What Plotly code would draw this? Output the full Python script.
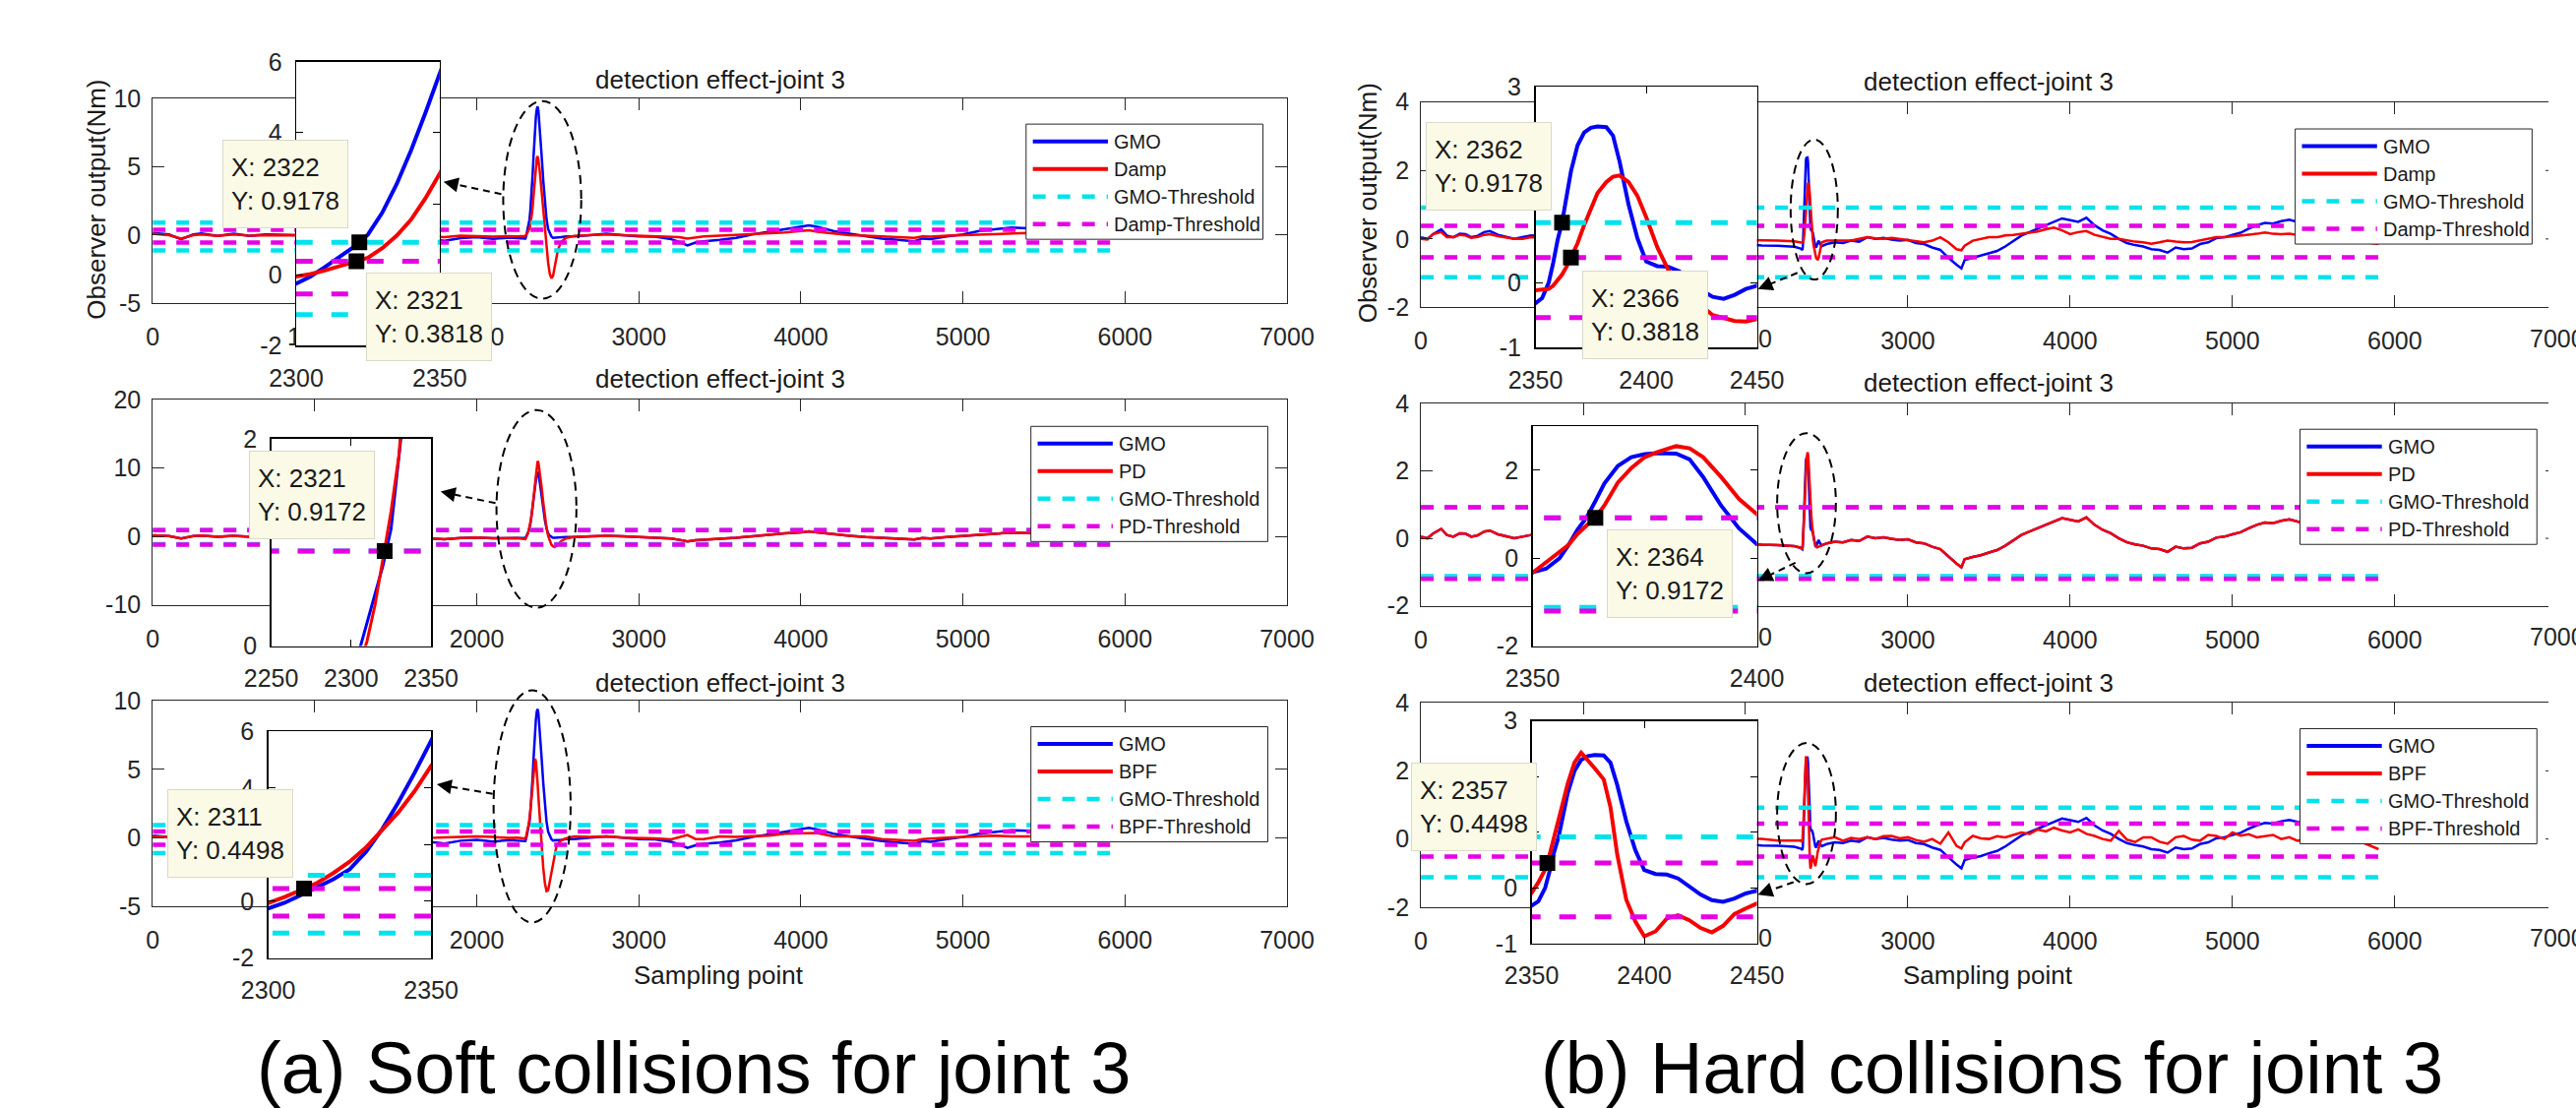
import plotly.graph_objects as go

W, H = 2618, 1126
FONT = "Liberation Sans, Arial, Helvetica, sans-serif"
INK = "#262626"
TXT = "#1a1a1a"
BLUE, RED, CYAN, MAGENTA = "#0000F5", "#F50000", "#00E3EC", "#E600E6"

# ======================= DATA =======================
# ---- (a) soft collisions ----
soft_x_pre = [0, 50, 100, 175, 250, 300, 400, 500, 600, 700, 900, 1200, 1500, 1750, 1800, 1900, 2000, 2100, 2200, 2250]
soft_gmo_pre = [0.15, 0.10, 0.05, -0.30, 0.05, 0.12, -0.05, 0.10, -0.05, 0.05, 0.00, 0.05, -0.10, -0.35, -0.42, -0.22, -0.15, -0.28, -0.18, -0.22]
soft_damp_pre = [0.10, 0.05, 0.00, -0.25, 0.00, 0.05, -0.05, 0.05, -0.05, 0.00, 0.00, 0.00, -0.05, -0.12, -0.15, -0.05, -0.10, -0.12, -0.08, -0.10]
soft_bpf_pre = [0.12, 0.05, 0.02, -0.20, 0.05, 0.08, -0.02, 0.05, -0.03, 0.02, 0.00, 0.02, -0.02, 0.00, 0.02, 0.05, 0.10, 0.05, -0.02, 0.00]

soft_x_spk = [2300, 2305, 2310, 2315, 2320, 2325, 2330, 2335, 2340, 2345, 2350, 2355, 2360, 2365, 2370, 2375, 2380,
              2390, 2400, 2410, 2420, 2430, 2440, 2450, 2460, 2470, 2480, 2490, 2500, 2520, 2550]
soft_gmo_spk = [-0.25, -0.05, 0.22, 0.50, 0.78, 1.13, 1.75, 2.55, 3.50, 4.55, 5.75, 6.90, 7.90, 8.70, 9.20, 9.40, 9.10,
                7.70, 5.80, 4.00, 2.40, 1.20, 0.45, 0.10, -0.10, -0.20, -0.20, -0.18, -0.20, -0.15, -0.10]
soft_damp_spk = [-0.05, 0.02, 0.12, 0.24, 0.36, 0.48, 0.75, 1.10, 1.55, 2.15, 2.85, 3.60, 4.40, 5.10, 5.60, 5.76, 5.50,
                 4.50, 3.10, 1.70, 0.40, -0.90, -2.00, -2.80, -3.15, -3.00, -2.40, -1.70, -1.10, -0.50, -0.20]
soft_pd_spk = [-0.40, -0.20, 0.05, 0.40, 0.83, 1.30, 1.85, 2.60, 3.50, 4.60, 5.80, 7.00, 8.20, 9.40, 10.40, 11.00, 10.80,
               9.30, 7.20, 5.00, 3.00, 1.30, 0.10, -0.70, -1.20, -1.45, -1.55, -1.40, -1.15, -0.70, -0.30]
soft_bpf_spk = [-0.06, 0.15, 0.40, 0.65, 1.00, 1.40, 1.90, 2.50, 3.15, 3.90, 4.78, 5.45, 5.76, 5.55, 4.90, 4.00, 3.00,
                1.00, -0.80, -2.20, -3.30, -3.90, -3.85, -3.20, -2.40, -1.70, -1.10, -0.70, -0.45, -0.20, -0.05]

soft_x_post = [2600, 2700, 2800, 2900, 3000, 3100, 3200, 3250, 3300, 3350, 3400, 3500, 3600, 3700, 3800, 3900, 4000,
               4050, 4100, 4200, 4300, 4400, 4500, 4600, 4700, 4750, 4800, 4900, 5000, 5100, 5200, 5300, 5400, 5500,
               5600, 5700, 5800, 5900]
soft_gmo_post = [-0.10, 0.00, 0.10, 0.00, -0.10, -0.12, -0.30, -0.50, -0.75, -0.55, -0.45, -0.35, -0.20, 0.05, 0.25, 0.45, 0.60,
                 0.72, 0.60, 0.30, 0.10, -0.10, -0.25, -0.35, -0.45, -0.25, -0.30, -0.10, 0.05, 0.30, 0.45, 0.55, 0.50, 0.40,
                 0.30, 0.20, 0.10, 0.05]
soft_damp_post = [-0.05, 0.00, 0.05, 0.00, -0.05, -0.05, -0.10, -0.15, -0.25, -0.15, -0.10, -0.05, 0.00, 0.05, 0.15, 0.20, 0.30,
                  0.35, 0.25, 0.10, 0.00, -0.05, -0.10, -0.15, -0.20, -0.10, -0.12, -0.05, 0.00, 0.05, 0.10, 0.15, 0.15, 0.10,
                  0.10, 0.05, 0.05, 0.00]
soft_bpf_post = [0.10, 0.05, 0.10, 0.00, 0.00, -0.05, -0.12, 0.05, 0.20, -0.10, -0.10, 0.10, 0.05, 0.12, 0.15, 0.30, 0.30,
                 0.35, 0.35, 0.10, 0.10, 0.10, -0.10, -0.15, -0.22, -0.10, -0.05, 0.00, 0.05, 0.10, 0.15, 0.10, 0.12, 0.10,
                 0.05, 0.05, 0.00, 0.00]

# ---- (b) hard collisions ----
hard_x_pre = [0, 40, 75, 125, 160, 200, 240, 275, 310, 350, 390, 425, 475, 525, 575, 625, 680, 1000, 1500, 2000, 2100, 2200, 2300]
hard_gmo_pre = [0.05, 0.00, 0.14, 0.28, 0.10, 0.05, 0.15, 0.14, 0.05, 0.09, 0.20, 0.23, 0.12, 0.05, 0.00, 0.05, 0.10, 0.00, -0.10, -0.15, -0.19, -0.20, -0.23]
hard_damp_pre = [0.00, -0.02, 0.14, 0.20, 0.05, 0.05, 0.12, 0.10, 0.03, 0.06, 0.12, 0.14, 0.08, 0.05, 0.00, 0.00, 0.05, 0.00, -0.03, -0.03, -0.03, -0.05, -0.07]
hard_bpf_pre = [0.00, 0.05, 0.10, 0.15, 0.05, -0.05, 0.05, 0.10, 0.02, 0.05, 0.08, 0.05, 0.02, 0.00, 0.03, 0.05, 0.00, 0.00, 0.02, 0.00, 0.00, -0.05, -0.05]

hard_x_spk = [2340, 2350, 2353, 2356, 2358, 2360, 2362, 2364, 2366, 2369,
              2372, 2375, 2378, 2382, 2385, 2388, 2392, 2396, 2400,
              2405, 2410, 2415, 2420, 2425, 2430, 2435, 2440, 2445, 2450, 2460, 2470]
hard_gmo_spk = [-0.28, -0.32, -0.24, 0.00, 0.30, 0.65, 0.92, 1.30, 1.70, 2.10,
                2.30, 2.37, 2.39, 2.38, 2.25, 1.85, 1.20, 0.68, 0.32,
                0.25, 0.24, 0.17, 0.03, -0.12, -0.22, -0.25, -0.19, -0.10, -0.05, -0.15, -0.21]
hard_damp_spk = [-0.10, -0.12, -0.11, -0.10, -0.05, 0.03, 0.12, 0.24, 0.38, 0.60,
                 0.88, 1.13, 1.37, 1.54, 1.62, 1.64, 1.54, 1.33, 1.00,
                 0.54, 0.19, -0.03, -0.20, -0.36, -0.50, -0.55, -0.59, -0.60, -0.56, -0.30, -0.10]
hard_pd_spk = [-0.28, -0.33, -0.10, 0.12, 0.30, 0.55, 0.75, 0.93, 1.20, 1.72,
               2.05, 2.30, 2.42, 2.55, 2.50, 2.30, 1.85, 1.35, 1.00,
               0.70, 0.40, 0.15, 0.00, -0.10, -0.20, -0.25, -0.27, -0.26, -0.25, -0.22, -0.20]
hard_bpf_spk = [-0.05, -0.09, 0.10, 0.33, 0.60, 0.90, 1.23, 1.55, 1.87, 2.25,
                2.43, 2.30, 2.15, 1.95, 1.45, 0.60, -0.21, -0.60, -0.87,
                -0.78, -0.55, -0.49, -0.58, -0.72, -0.80, -0.68, -0.47, -0.37, -0.29, -0.10, -0.02]

hard_x_post = [2500, 2550, 2600, 2650, 2700, 2750, 2800, 2850, 2900, 2950, 3000, 3050, 3100, 3150, 3200, 3250, 3300,
               3330,
               3350, 3400, 3450, 3500, 3550, 3600, 3650, 3700, 3750, 3800,
               3850, 3900, 3950, 4000, 4050, 4100, 4150, 4200, 4250, 4300,
               4350, 4400, 4450, 4500, 4550, 4600, 4650, 4700, 4750, 4800,
               4850, 4900, 4950, 5000, 5050, 5100, 5150, 5200, 5250, 5300,
               5350, 5400, 5500, 5600, 5700, 5800, 5900]
hard_gmo_post = [-0.15, -0.10, -0.12, -0.05, -0.08, 0.05, 0.00, 0.03, -0.02, -0.05, -0.03, -0.12, -0.15, -0.25, -0.32, -0.55, -0.75,
                 -0.86,
                 -0.62, -0.55, -0.50, -0.42, -0.35, -0.22, -0.05, 0.10, 0.20, 0.30,
                 0.40, 0.50, 0.60, 0.55, 0.50, 0.62, 0.40, 0.25, 0.15, 0.00,
                 -0.12, -0.18, -0.22, -0.30, -0.32, -0.40, -0.25, -0.30, -0.28, -0.15,
                 -0.10, 0.02, 0.05, 0.12, 0.18, 0.30, 0.40, 0.47, 0.45, 0.52,
                 0.56, 0.50, 0.42, 0.35, 0.25, 0.12, 0.05]
hard_damp_post = [-0.05, -0.05, -0.03, -0.05, 0.00, 0.05, 0.02, 0.00, 0.03, 0.00, -0.02, -0.05, -0.10, -0.05, 0.05, -0.10, -0.30,
                  -0.33,
                  -0.20, -0.05, 0.00, 0.05, 0.05, 0.10, 0.12, 0.15, 0.20, 0.22,
                  0.28, 0.33, 0.25, 0.14, 0.20, 0.23, 0.12, 0.05, 0.00, 0.00,
                  -0.05, -0.08, -0.10, -0.14, -0.10, -0.05, -0.08, -0.10, -0.09, -0.05,
                  0.00, 0.05, 0.05, 0.07, 0.09, 0.12, 0.15, 0.19, 0.15, 0.14,
                  0.15, 0.12, 0.05, 0.00, -0.05, -0.10, -0.14]
hard_bpf_post = [0.00, 0.05, -0.05, 0.03, 0.00, 0.05, 0.00, 0.08, 0.09, 0.02, 0.05, -0.03, -0.08, 0.00, -0.14, 0.19, -0.20,
                 -0.28,
                 -0.10, 0.09, 0.02, 0.00, 0.08, 0.05, 0.12, 0.19, 0.15, 0.28,
                 0.22, 0.33, 0.25, 0.19, 0.28, 0.15, 0.09, 0.00, -0.05, 0.24,
                 -0.02, -0.09, 0.05, 0.05, -0.08, -0.14, 0.05, 0.09, -0.02, -0.05,
                 0.12, 0.09, 0.00, 0.19, 0.10, 0.14, 0.05, 0.09, 0.12, 0.00,
                 0.05, -0.05, 0.02, 0.00, -0.05, -0.10, -0.30]

# thresholds (upper, lower) and their extent
thr_x = [0, 5920]
gmo_thr = [0.9178, -1.12]
damp_thr = [0.3818, -0.54]
pd_thr = [0.9172, -1.20]
bpf_thr = [0.4498, -0.52]

# data tips (X, Y) shown in the insets
soft_tip_x = [2322, 2321, 2321, 2311]
soft_tip_y = [0.9178, 0.3818, 0.9172, 0.4498]
hard_tip_x = [2362, 2366, 2364, 2357]
hard_tip_y = [0.9178, 0.3818, 0.9172, 0.4498]

# ticks
main_xticks = [0, 1000, 2000, 3000, 4000, 5000, 6000, 7000]
soft_yticks = [[-5, 0, 5, 10], [-10, 0, 10, 20], [-5, 0, 5, 10]]
hard_yticks = [[-2, 0, 2, 4], [-2, 0, 2, 4], [-2, 0, 2, 4]]
soft_in_xticks = [[2300, 2350], [2250, 2300, 2350], [2300, 2350]]
soft_in_yticks = [[-2, 0, 2, 4, 6], [0, 2], [-2, 0, 2, 4, 6]]
hard_in_xticks = [[2350, 2400, 2450], [2350, 2400], [2350, 2400, 2450]]
hard_in_yticks = [[-1, 0, 3], [-2, 0, 2], [-1, 0, 1, 2, 3]]

for arr_x, arrs in [(soft_x_pre, [soft_gmo_pre, soft_damp_pre, soft_bpf_pre]),
                    (soft_x_spk, [soft_gmo_spk, soft_damp_spk, soft_pd_spk, soft_bpf_spk]),
                    (soft_x_post, [soft_gmo_post, soft_damp_post, soft_bpf_post]),
                    (hard_x_pre, [hard_gmo_pre, hard_damp_pre, hard_bpf_pre]),
                    (hard_x_spk, [hard_gmo_spk, hard_damp_spk, hard_pd_spk, hard_bpf_spk]),
                    (hard_x_post, [hard_gmo_post, hard_damp_post, hard_bpf_post])]:
    for a in arrs:
        assert len(a) == len(arr_x), (len(a), len(arr_x))

soft_x = soft_x_pre + soft_x_spk + soft_x_post
hard_x = hard_x_pre + hard_x_spk + hard_x_post
soft_gmo = soft_gmo_pre + soft_gmo_spk + soft_gmo_post
hard_gmo = hard_gmo_pre + hard_gmo_spk + hard_gmo_post
soft_methods = [
    ("Damp", soft_damp_pre + soft_damp_spk + soft_damp_post, damp_thr),
    ("PD", soft_gmo_pre + soft_pd_spk + soft_gmo_post, pd_thr),
    ("BPF", soft_bpf_pre + soft_bpf_spk + soft_bpf_post, bpf_thr),
]
hard_methods = [
    ("Damp", hard_damp_pre + hard_damp_spk + hard_damp_post, damp_thr),
    ("PD", hard_gmo_pre + hard_pd_spk + hard_gmo_post, pd_thr),
    ("BPF", hard_bpf_pre + hard_bpf_spk + hard_bpf_post, bpf_thr),
]

# ======================= LAYOUT GEOMETRY (pixels) =======================
SOFT_MAIN_X = (130, 1308)
SOFT_MAIN_Y = [(88, 302), (402, 616), (716, 930)]
HARD_MAIN_X = (1447, 2627)           # right edge lies beyond the picture
HARD_MAIN_Y = [(92, 306), (406, 617), (718, 931)]
SOFT_INSET = [(279, 428, 50, 346), (253, 419, 443, 659), (250, 419, 748, 984)]
HARD_INSET = [(1566, 1796, 76, 348), (1563, 1796, 430, 659), (1562, 1796, 737, 969)]
SOFT_IN_XR = [[2300, 2350], [2250, 2350], [2300, 2350]]
SOFT_IN_YR = [[-2, 6], [0, 2], [-2, 6]]
HARD_IN_XR = [[2350, 2450], [2350, 2400], [2350, 2450]]
HARD_IN_YR = [[-1, 3], [-2, 3], [-1, 3]]
SOFT_LEG = [(1037, 115), (1042, 430), (1042, 743)]
HARD_LEG = [(2355, 120), (2360, 433), (2360, 745)]
LEG_W, LEG_H = 246, 120
SOFT_TITLE_Y = [69, 380, 697]
HARD_TITLE_Y = [71, 385, 697]
SOFT_ELL = [(494, 575, 91, 297), (487, 570, 413, 619), (484, 564, 705, 947)]
HARD_ELL = [(1831, 1880, 131, 277), (1817, 1878, 437, 583), (1817, 1878, 760, 907)]
SOFT_ARROW = [((492, 188), (432, 175)), ((486, 510), (429, 498)), ((483, 813), (425, 803))]
HARD_ARROW = [((1838, 270), (1797, 287)), ((1836, 572), (1797, 591)), ((1834, 905), (1797, 918))]
SOFT_TIPBOX = [[(268, 177), (417, 316)], [(295, 501)], [(210, 854)]]
HARD_TIPBOX = [[(1517, 159), (1680, 314)], [(1705, 584)], [(1502, 827)]]
SOFT_TIPIDX = [[0, 1], [2], [3]]
HARD_TIPIDX = [[0, 1], [2], [3]]
TICK_FS = 25
TICK_LEN = 12
CHAR_W = 0.556 * TICK_FS
XLAB_OFF = 32          # tick-label centre below the axis


def fx(p):
    return p / W


def fy(p):
    return 1 - p / H


def names(n):
    s = "" if n == 1 else str(n)
    return "xaxis" + s, "yaxis" + s, "x" + s, "y" + s


traces = []
shapes = []
annos = []
layout = dict(width=W, height=H, margin=dict(l=0, r=0, t=0, b=0),
              paper_bgcolor="white", plot_bgcolor="white",
              font=dict(family=FONT, color=INK), showlegend=False)

main_ax = dict(showline=True, linecolor=INK, linewidth=1, ticks="inside", ticklen=TICK_LEN, tickwidth=1,
               tickcolor=INK, showgrid=False, zeroline=False, fixedrange=True,
               tickfont=dict(family=FONT, size=TICK_FS, color=INK))
inset_ax = dict(showline=True, linecolor="black", linewidth=1.5, mirror="ticks", ticks="inside", ticklen=7,
                tickwidth=1, tickcolor="black", showgrid=False, zeroline=False, fixedrange=True,
                tickfont=dict(family=FONT, size=TICK_FS, color=INK))


def thr_xy(thr):
    return [thr_x[0], thr_x[1], None, thr_x[0], thr_x[1]], [thr[0], thr[0], None, thr[1], thr[1]]


def add_legend(lx, ly, entries):
    shapes.append(dict(type="rect", xref="paper", yref="paper", x0=fx(lx), x1=fx(lx + LEG_W),
                       y0=fy(ly + LEG_H), y1=fy(ly), line=dict(color=INK, width=1), fillcolor="white",
                       layer="above"))
    for i, (label, color, width, dash) in enumerate(entries):
        yc = ly + 18 + i * 28.7
        shapes.append(dict(type="line", xref="paper", yref="paper", x0=fx(lx + 7), x1=fx(lx + 85),
                           y0=fy(yc), y1=fy(yc), line=dict(color=color, width=width, dash=dash), layer="above"))
        annos.append(dict(text=label, x=fx(lx + 89), y=fy(yc), xref="paper", yref="paper", xanchor="left",
                          yanchor="middle", showarrow=False, font=dict(family=FONT, size=20, color=TXT)))


panel = 0
for side in ("soft", "hard"):
    if side == "soft":
        xs, gmo, methods = soft_x, soft_gmo, soft_methods
        MX, MY, INS, IXR, IYR = SOFT_MAIN_X, SOFT_MAIN_Y, SOFT_INSET, SOFT_IN_XR, SOFT_IN_YR
        yt, ixt, iyt = soft_yticks, soft_in_xticks, soft_in_yticks
        LEG, TY, ELL, ARR, TB, TI = SOFT_LEG, SOFT_TITLE_Y, SOFT_ELL, SOFT_ARROW, SOFT_TIPBOX, SOFT_TIPIDX
        tipx, tipy = soft_tip_x, soft_tip_y
    else:
        xs, gmo, methods = hard_x, hard_gmo, hard_methods
        MX, MY, INS, IXR, IYR = HARD_MAIN_X, HARD_MAIN_Y, HARD_INSET, HARD_IN_XR, HARD_IN_YR
        yt, ixt, iyt = hard_yticks, hard_in_xticks, hard_in_yticks
        LEG, TY, ELL, ARR, TB, TI = HARD_LEG, HARD_TITLE_Y, HARD_ELL, HARD_ARROW, HARD_TIPBOX, HARD_TIPIDX
        tipx, tipy = hard_tip_x, hard_tip_y

    for row in range(3):
        mname, mvals, mthr = methods[row]
        nm, ni = 2 * panel + 1, 2 * panel + 2
        xk, yk, xr, yr = names(nm)
        ixk, iyk, ixr, iyr = names(ni)
        a, b, c, d = INS[row]

        # ---- main axes ----
        x0, x1 = MX
        y0, y1 = MY[row]
        full_range = main_xticks[-1] - main_xticks[0]
        scale = (x1 - x0) / full_range
        xrng = [0, full_range * (min(x1, W) - x0) / (x1 - x0)]
        # tick labels: hide those lying under the inset, keep the visible tail of a partly covered one
        ttext = []
        for v in main_xticks:
            s = str(v)
            xp = x0 + (v - main_xticks[0]) * scale
            left = xp - len(s) * CHAR_W / 2
            right = xp + len(s) * CHAR_W / 2
            if left >= a and right <= b + 2:
                ttext.append("")
            elif left < b < right and left >= a - 2:
                ttext.append("")
                nvis = int((right - b) // CHAR_W + (1 if (right - b) % CHAR_W > CHAR_W * 0.6 else 0))
                if nvis > 0:
                    tail = s[-nvis:]
                    annos.append(dict(text=tail, x=fx(right - nvis * CHAR_W / 2), y=fy(y1 + XLAB_OFF),
                                      xref="paper", yref="paper", xanchor="center", yanchor="middle",
                                      showarrow=False, font=dict(family=FONT, size=TICK_FS, color=INK)))
            else:
                ttext.append(s)
            if xp > W:
                annos.append(dict(text=s, x=fx(xp), y=fy(y1 + XLAB_OFF), xref="paper", yref="paper",
                                  xanchor="center", yanchor="middle", showarrow=False,
                                  font=dict(family=FONT, size=TICK_FS, color=INK)))
        layout[xk] = dict(main_ax, domain=[fx(x0), min(1.0, fx(x1))], range=xrng, anchor=yr,
                          mirror="ticks", tickvals=main_xticks, ticktext=ttext, ticklabelstandoff=12)
        yrng = [yt[row][0], yt[row][-1]]
        layout[yk] = dict(main_ax, domain=[fy(y1), fy(y0)], range=yrng, anchor=xr,
                          mirror=("ticks" if x1 <= W else False),
                          tickvals=yt[row], ticktext=[str(v) for v in yt[row]], ticklabelstandoff=6)
        if x1 > W:
            # right-hand y axis lies just outside the picture: only the tips of its inward ticks show
            for v in yt[row][1:-1]:
                shapes.append(dict(type="line", xref="paper", yref=yr, x0=fx(x1 - TICK_LEN), x1=1.0,
                                   y0=v, y1=v, line=dict(color=INK, width=1)))

        tx_u, ty_u = thr_xy(gmo_thr)
        tx_m, ty_m = thr_xy(mthr)
        traces += [
            go.Scatter(x=xs, y=gmo, mode="lines", name="GMO", line=dict(color=BLUE, width=2.5),
                       xaxis=xr, yaxis=yr),
            go.Scatter(x=xs, y=mvals, mode="lines", name=mname, line=dict(color=RED, width=2.5),
                       xaxis=xr, yaxis=yr),
            go.Scatter(x=tx_u, y=ty_u, mode="lines", name="GMO-Threshold",
                       line=dict(color=CYAN, width=4.5, dash="13px,11px"), xaxis=xr, yaxis=yr),
            go.Scatter(x=tx_m, y=ty_m, mode="lines", name=mname + "-Threshold",
                       line=dict(color=MAGENTA, width=4.5, dash="13px,11px"), xaxis=xr, yaxis=yr),
        ]
        lx, ly = LEG[row]
        add_legend(lx, ly, [("GMO", BLUE, 4, "solid"), (mname, RED, 4, "solid"),
                            ("GMO-Threshold", CYAN, 4.5, "13px,12px"),
                            (mname + "-Threshold", MAGENTA, 4.5, "13px,12px")])

        # ---- inset axes ----
        layout[ixk] = dict(inset_ax, domain=[fx(a), fx(b)], range=IXR[row], anchor=iyr,
                           tickvals=ixt[row], ticktext=[str(v) for v in ixt[row]], ticklabelstandoff=10)
        layout[iyk] = dict(inset_ax, domain=[fy(d), fy(c)], range=IYR[row], anchor=ixr,
                           tickvals=iyt[row], ticktext=[str(v) for v in iyt[row]], ticklabelstandoff=8)
        lw = 3 if (side == "soft" and row == 1) else 4
        traces += [
            go.Scatter(x=xs, y=gmo, mode="lines", line=dict(color=BLUE, width=lw), xaxis=ixr, yaxis=iyr),
            go.Scatter(x=xs, y=mvals, mode="lines", line=dict(color=RED, width=lw), xaxis=ixr, yaxis=iyr),
            go.Scatter(x=tx_u, y=ty_u, mode="lines", line=dict(color=CYAN, width=5, dash="17px,19px"),
                       xaxis=ixr, yaxis=iyr),
            go.Scatter(x=tx_m, y=ty_m, mode="lines", line=dict(color=MAGENTA, width=5, dash="17px,19px"),
                       xaxis=ixr, yaxis=iyr),
        ]
        idx = TI[row]
        traces.append(go.Scatter(x=[tipx[i] for i in idx], y=[tipy[i] for i in idx], mode="markers",
                                 marker=dict(symbol="square", size=16, color="black"),
                                 xaxis=ixr, yaxis=iyr))
        for k, i in enumerate(idx):
            cx, cy = TB[row][k]
            annos.append(dict(text="X: %d<br>Y: %.4f" % (tipx[i], tipy[i]), x=fx(cx), y=fy(cy),
                              xref="paper", yref="paper", xanchor="center", yanchor="middle",
                              width=110, height=72, showarrow=False, align="left", valign="middle",
                              bgcolor="#FAFAE6", bordercolor="#D9D9C8", borderwidth=1, borderpad=8,
                              font=dict(family=FONT, size=26, color=TXT)))

        # ---- title ----
        annos.append(dict(text="detection effect-joint 3", x=fx((x0 + x1) / 2), y=fy(TY[row]),
                          xref="paper", yref="paper", xanchor="center", yanchor="middle", showarrow=False,
                          font=dict(family=FONT, size=26, color=TXT)))

        # ---- ellipse + dashed arrow ----
        e0, e1, e2, e3 = ELL[row]
        shapes.append(dict(type="circle", xref="paper", yref="paper", x0=fx(e0), x1=fx(e1), y0=fy(e3), y1=fy(e2),
                           line=dict(color="black", width=2, dash="9px,6px"), layer="above"))
        (tx, ty), (hx, hy) = ARR[row]
        ln = ((tx - hx) ** 2 + (ty - hy) ** 2) ** 0.5
        ux, uy = (tx - hx) / ln, (ty - hy) / ln
        shapes.append(dict(type="line", xref="paper", yref="paper", x0=fx(tx), y0=fy(ty),
                           x1=fx(hx + ux * 10), y1=fy(hy + uy * 10),
                           line=dict(color="black", width=2, dash="7px,5px"), layer="above"))
        annos.append(dict(text="", x=fx(hx), y=fy(hy), xref="paper", yref="paper", showarrow=True,
                          ax=ux * 16, ay=uy * 16, arrowhead=2, arrowsize=1.5, arrowwidth=2,
                          arrowcolor="black", standoff=0))
        panel += 1

# axis labels and captions
extra = [
    dict(text="Observer output(Nm)", x=fx(72), y=fy(193), textangle=-90),
    dict(text="Observer output(Nm)", x=fx(1392), y=fy(197), textangle=-90),
    dict(text="Sampling point", x=fx(718), y=fy(1002)),
    dict(text="Sampling point", x=fx(2036), y=fy(1002)),
]
for a_ in extra:
    a_.update(xref="paper", yref="paper", xanchor="center", yanchor="middle", showarrow=False,
              font=dict(family=FONT, size=26, color=TXT))
annos += extra
annos += [
    dict(text="(a) Soft collisions for joint 3", x=fx(692), y=fy(1054), xref="paper", yref="paper",
         xanchor="center", yanchor="top", showarrow=False, font=dict(family=FONT, size=74, color="black")),
    dict(text="(b) Hard collisions for joint 3", x=fx(2040), y=fy(1054), xref="paper", yref="paper",
         xanchor="center", yanchor="top", showarrow=False, font=dict(family=FONT, size=74, color="black")),
]

layout["shapes"] = shapes
layout["annotations"] = annos
fig = go.Figure(data=traces, layout=layout)
fig.update_traces(showlegend=False, hoverinfo="skip")
fig.write_html("out.html", config={"displayModeBar": False, "staticPlot": True},
               post_script="document.body.style.margin='0px';document.documentElement.style.overflow='hidden';")
